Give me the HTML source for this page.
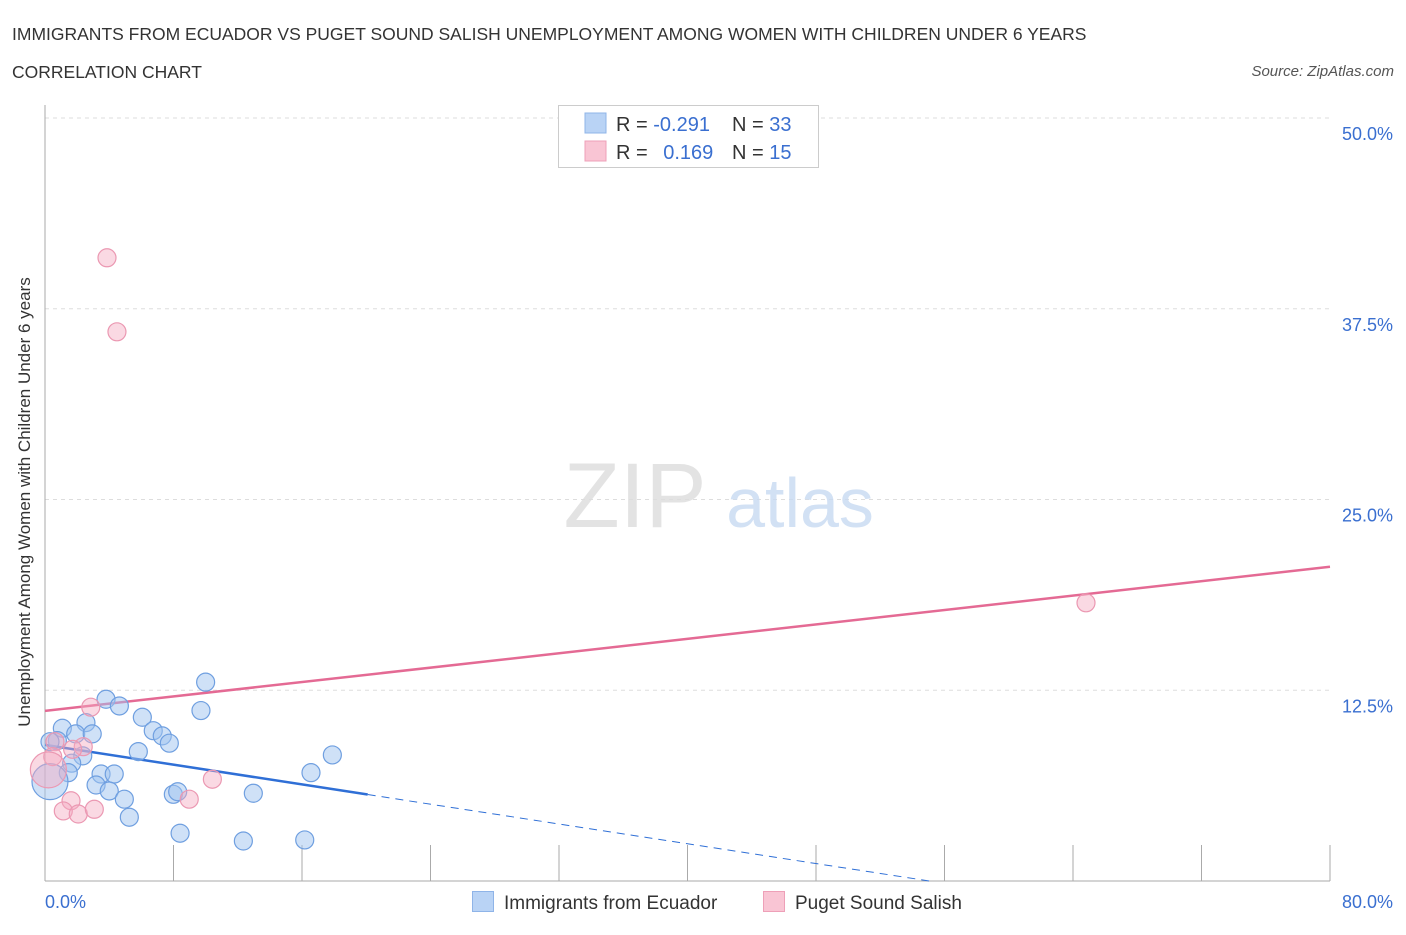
<!DOCTYPE html>
<html><head><meta charset="utf-8"><style>
body{margin:0;background:#fff;font-family:"Liberation Sans",sans-serif;}
svg text{font-family:"Liberation Sans",sans-serif;}
</style></head><body>
<svg id="c" width="1406" height="930" xmlns="http://www.w3.org/2000/svg">
<text x="12" y="40" font-size="17.5" fill="#333">IMMIGRANTS FROM ECUADOR VS PUGET SOUND SALISH UNEMPLOYMENT AMONG WOMEN WITH CHILDREN UNDER 6 YEARS</text>
<text x="12" y="78" font-size="17.5" fill="#333">CORRELATION CHART</text>
<text x="1394" y="76" font-size="15" fill="#555" font-style="italic" text-anchor="end">Source: ZipAtlas.com</text>
<g id="grid"></g>
<g><text x="635" y="527" font-size="92" fill="#ddd" font-family="Liberation Serif" text-anchor="middle" opacity="0.8">ZIP</text><text x="800" y="527" font-size="70" fill="#c8daf2" text-anchor="middle" opacity="0.8">atlas</text></g>
<g id="axes"></g>
<g id="lines"></g>
<g id="pts"></g>
<text x="20" y="492" font-size="17" fill="#333" text-anchor="middle" transform="rotate(-90 30 492)">Unemployment Among Women with Children Under 6 years</text>
<g>
<rect x="558.5" y="105.5" width="260" height="62" fill="#fff" stroke="#ccc"/>
<rect x="585" y="113" width="21" height="20" fill="#b9d3f5" stroke="#8fb4e8"/>
<rect x="585" y="141" width="21" height="20" fill="#f9c5d4" stroke="#eea0b8"/>
<text x="616" y="131" font-size="20" fill="#333">R = <tspan fill="#3a6fd0">-0.291</tspan></text>
<text x="732" y="131" font-size="20" fill="#333">N = <tspan fill="#3a6fd0">33</tspan></text>
<text x="616" y="159" font-size="20" fill="#333">R = <tspan fill="#3a6fd0" dx="10">0.169</tspan></text>
<text x="732" y="159" font-size="20" fill="#333">N = <tspan fill="#3a6fd0">15</tspan></text>
</g>
<g>
<rect x="472.5" y="891.5" width="21" height="20" fill="#b9d3f5" stroke="#8fb4e8"/>
<text x="504" y="909" font-size="19" fill="#333">Immigrants from Ecuador</text>
<rect x="763.5" y="891.5" width="21" height="20" fill="#f9c5d4" stroke="#eea0b8"/>
<text x="795" y="909" font-size="19" fill="#333">Puget Sound Salish</text>
</g>
</svg>
<script>
const yTicks=[12.5,25,37.5,50];
const yTickLabels=["12.5%","25.0%","37.5%","50.0%"];
const xTickVals=[0,8,16,24,32,40,48,56,64,72,80];
const blueX=[10.0,9.71,3.80,4.63,6.06,2.55,1.08,1.91,2.94,6.74,7.30,7.74,0.77,0.31,5.81,2.35,1.66,1.45,17.89,16.56,3.49,4.31,3.18,4.00,0.31,7.99,8.26,12.97,4.94,5.25,8.41,12.35,16.17];
const blueY=[13.03,11.17,11.91,11.47,10.73,10.38,10.01,9.64,9.64,9.85,9.51,9.03,9.20,9.13,8.48,8.20,7.72,7.10,8.26,7.10,7.01,7.01,6.29,5.90,6.51,5.68,5.85,5.75,5.36,4.18,3.13,2.62,2.69];
const pinkX=[2.85,0.62,2.38,1.72,0.48,0.21,10.42,1.62,1.14,2.07,3.07,8.98,3.86,4.48,64.81];
const pinkY=[11.39,9.13,8.80,8.63,8.15,7.28,6.67,5.26,4.59,4.39,4.70,5.36,40.84,35.99,18.23];
const blueTrend=[8.92,-0.162];
const pinkTrend=[11.15,0.118];
const X=v=>45+v/80*1285;
const Y=v=>881-v/50*763;
const NS="http://www.w3.org/2000/svg";
function mk(t,a,p){const e=document.createElementNS(NS,t);for(const k in a)e.setAttribute(k,a[k]);p.appendChild(e);return e;}
const grid=document.getElementById('grid'),axes=document.getElementById('axes'),lines=document.getElementById('lines'),pts=document.getElementById('pts');
yTicks.forEach((v,i)=>{
 const l=mk('line',{x1:45,x2:1330,y1:Y(v),y2:Y(v),stroke:'#ddd','stroke-dasharray':'4,4'},grid);
 
 
 const t=mk('text',{x:1393,y:Y(v)+22,'font-size':18,fill:'#3a6fd0','text-anchor':'end'},axes);
 t.textContent=yTickLabels[i];
 
 
});
mk('line',{x1:45,x2:45,y1:105,y2:881,stroke:'#aaa'},axes);
mk('line',{x1:45,x2:1330,y1:881,y2:881,stroke:'#aaa'},axes);
xTickVals.forEach(v=>{
 const l=mk('line',{x1:X(v),x2:X(v),y1:845,y2:881,stroke:'#aaa'},axes);
 
 
});
const x0=mk('text',{x:45,y:908,'font-size':18,fill:'#3a6fd0'},axes);x0.textContent='0.0%';


const x1=mk('text',{x:1393,y:908,'font-size':18,fill:'#3a6fd0','text-anchor':'end'},axes);x1.textContent='80.0%';


function bigR(x,y){return (x<0.5&&(y>6&&y<7.5))?18:9;}
blueX.forEach((x,i)=>{
 const c=mk('circle',{cx:X(x),cy:Y(blueY[i]),r:bigR(x,blueY[i]),fill:'rgba(160,195,240,0.5)',stroke:'#6f9fe0','stroke-width':1.2},pts);
 
 
});
pinkX.forEach((x,i)=>{
 const c=mk('circle',{cx:X(x),cy:Y(pinkY[i]),r:bigR(x,pinkY[i]),fill:'rgba(245,170,192,0.45)',stroke:'#eb98b2','stroke-width':1.2},pts);
 
 
});
const bEnd=Math.max(...blueX)+2.2, bZero=-blueTrend[0]/blueTrend[1];
let l=mk('line',{x1:X(0),y1:Y(blueTrend[0]),x2:X(bEnd),y2:Y(blueTrend[0]+blueTrend[1]*bEnd),stroke:'#2f6fd6','stroke-width':2.5},lines);


l=mk('line',{x1:X(bEnd),y1:Y(blueTrend[0]+blueTrend[1]*bEnd),x2:X(bZero),y2:Y(0),stroke:'#2f6fd6','stroke-width':1,'stroke-dasharray':'8,6'},lines);


l=mk('line',{x1:X(0),y1:Y(pinkTrend[0]),x2:X(80),y2:Y(pinkTrend[0]+pinkTrend[1]*80),stroke:'#e46a94','stroke-width':2.5},lines);


</script>
</body></html>
